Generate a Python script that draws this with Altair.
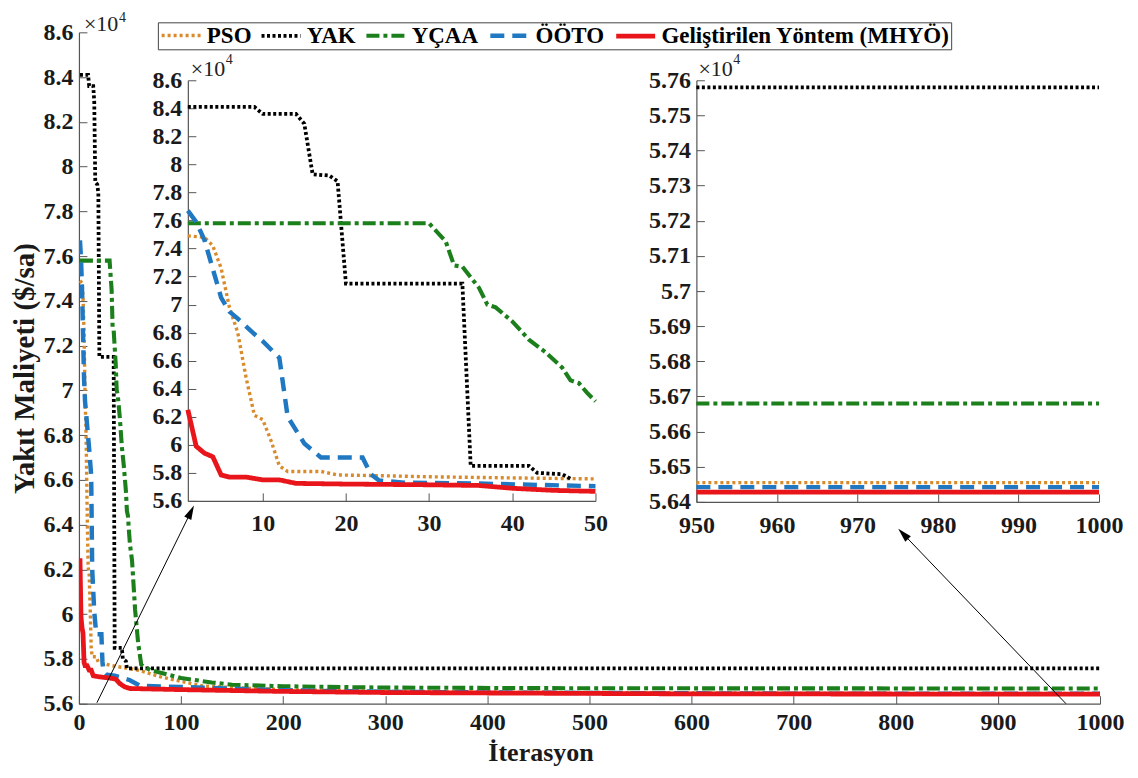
import altair as alt
import pandas as pd

# ---------------- data (cost values in units of 10^4 $/sa) ----------------
series_names = ["PSO", "YAK", "YÇAA", "ÖÖTO", "Geliştirilen Yöntem (MHYÖ)"]
series_colors = ["#D98B2B", "#000000", "#1B7F1B", "#1F78C1", "#E8161B"]
series_dashes = [[3, 3], [3, 2.5], [13, 4, 4, 4], [14, 8], [1, 0]]
series_widths = [3.4, 4.8, 3.4, 3.4, 3.4]

pso_it = [1, 3, 4, 5, 6, 7, 8, 9, 10, 11, 12, 13, 17, 19, 24, 30, 40, 50, 60, 80, 100, 120, 150, 200, 300, 500, 700, 950, 1000]
pso_val = [7.49, 7.48, 7.42, 7.26, 6.98, 6.80, 6.48, 6.21, 6.18, 6.03, 5.85, 5.81, 5.81, 5.785, 5.78, 5.772, 5.764, 5.757, 5.748, 5.72, 5.70, 5.68, 5.672, 5.663, 5.655, 5.65, 5.647, 5.6455, 5.6455]

yak_it = [1, 9, 10, 14, 15, 16, 18, 19, 20, 34, 35, 42, 43, 46, 47, 950, 1000]
yak_val = [8.41, 8.41, 8.36, 8.36, 8.29, 7.93, 7.92, 7.88, 7.15, 7.15, 5.85, 5.85, 5.80, 5.79, 5.758, 5.758, 5.758]

ycaa_it = [1, 30, 32, 33, 34, 36, 37, 38, 40, 42, 44, 46, 47, 48, 49, 50, 52, 55, 58, 61, 70, 100, 130, 150, 200, 300, 500, 950, 1000]
ycaa_val = [7.58, 7.58, 7.45, 7.28, 7.27, 7.12, 7.00, 6.98, 6.88, 6.75, 6.66, 6.55, 6.46, 6.44, 6.37, 6.31, 6.24, 6.02, 5.87, 5.775, 5.75, 5.715, 5.695, 5.685, 5.678, 5.672, 5.669, 5.668, 5.668]

ooto_it = [1, 2, 3, 5, 6, 7, 9, 10, 12, 13, 15, 17, 22, 23, 24, 27, 35, 50, 60, 100, 200, 300, 500, 700, 950, 1000]
ooto_val = [7.67, 7.59, 7.46, 7.05, 6.95, 6.90, 6.79, 6.74, 6.62, 6.20, 6.01, 5.91, 5.91, 5.79, 5.745, 5.73, 5.725, 5.705, 5.68, 5.675, 5.66, 5.653, 5.648, 5.645, 5.6442, 5.6442]

mhyo_it = [1, 2, 3, 4, 5, 6, 8, 10, 12, 14, 20, 30, 36, 40, 45, 50, 100, 200, 300, 600, 950, 1000]
mhyo_val = [6.25, 5.99, 5.94, 5.915, 5.785, 5.77, 5.77, 5.75, 5.75, 5.725, 5.72, 5.715, 5.71, 5.69, 5.675, 5.668, 5.663, 5.655, 5.65, 5.644, 5.6428, 5.6428]

main_x_ticks = [0, 100, 200, 300, 400, 500, 600, 700, 800, 900, 1000]
main_y_ticks = [5.6, 5.8, 6.0, 6.2, 6.4, 6.6, 6.8, 7.0, 7.2, 7.4, 7.6, 7.8, 8.0, 8.2, 8.4, 8.6]
left_x_ticks = [10, 20, 30, 40, 50]
right_x_ticks = [950, 960, 970, 980, 990, 1000]
right_y_ticks = [5.64, 5.65, 5.66, 5.67, 5.68, 5.69, 5.70, 5.71, 5.72, 5.73, 5.74, 5.75, 5.76]

# zoom arrows (in main-axes data coordinates)
arrow_x0 = [17.6, 966.7]
arrow_y0 = [5.6045, 5.6]
arrow_x1 = [109.6, 807.2]
arrow_y1 = [6.457, 6.359]
arrow_angle = [26, 316]

# ---------------- tables ----------------
rows = []
for name, its, vals in zip(series_names,
                           [pso_it, yak_it, ycaa_it, ooto_it, mhyo_it],
                           [pso_val, yak_val, ycaa_val, ooto_val, mhyo_val]):
    for i, v in zip(its, vals):
        rows.append({"it": i, "val": v, "series": name})
df = pd.DataFrame(rows)
arrows = pd.DataFrame({"x0": arrow_x0, "y0": arrow_y0, "x1": arrow_x1,
                       "y1": arrow_y1, "ang": arrow_angle})

W, H = 1022, 672
FONT = "Liberation Serif"
TICK_IN = {"expr": "-8"}


def ax(values, **kw):
    base = dict(values=values, labelExpr="format(datum.value, '~g')",
                tickSize=TICK_IN, labelFlush=False, labelOverlap=False,
                grid=False, labelFont=FONT, labelFontWeight="bold")
    base.update(kw)
    return alt.Axis(**base)


legend = alt.Legend(title=None, orient="none", legendX=79, legendY=-10,
                    direction="horizontal", columns=5,
                    symbolType="M-1,0H3", symbolSize=380,
                    symbolStrokeWidth=3, labelOffset=23, labelLimit=500,
                    labelFont=FONT, labelFontWeight="bold", labelFontSize=23,
                    labelColor="black", strokeColor="#444", fillColor="white",
                    padding=1, columnPadding=2)

color = alt.Color("series:N", scale=alt.Scale(domain=series_names, range=series_colors),
                  legend=legend)
dash = alt.StrokeDash("series:N", scale=alt.Scale(domain=series_names, range=series_dashes),
                      legend=legend)
width = alt.StrokeWidth("series:N", scale=alt.Scale(domain=series_names, range=series_widths),
                        legend=None)

# ---------------- main axes ----------------
main_lines = alt.Chart(df).mark_line(clip=True).encode(
    x=alt.X("it:Q", scale=alt.Scale(domain=[0, 1000], nice=False),
            axis=ax(main_x_ticks, orient="bottom", title="İterasyon",
                    labelPadding=15, titlePadding=5, titleX=462, titleAlign="center",
                    titleFontSize=26)),
    y=alt.Y("val:Q", scale=alt.Scale(domain=[5.6, 8.6], nice=False, zero=False),
            axis=ax(main_y_ticks, orient="left", title="Yakıt Maliyeti ($/sa)",
                    labelPadding=14, titlePadding=3, titleFontSize=29)),
    color=color, strokeDash=dash, strokeWidth=width,
)

arrow_lines = alt.Chart(arrows).mark_rule(color="black", strokeWidth=1).encode(
    x="x0:Q", y="y0:Q", x2="x1:Q", y2="y1:Q")
arrow_heads = alt.Chart(arrows).mark_point(
    shape="M0,-1L-0.55,1L0.55,1Z", filled=True, color="black", opacity=1, size=200
).encode(x="x1:Q", y="y1:Q", angle=alt.Angle("ang:Q", scale=None))

one = pd.DataFrame({"k": [0]})


def exp_label(px, py, rise):
    base_txt = alt.Chart(one).mark_text(font=FONT, fontSize=22, align="left",
                                        baseline="alphabetic", color="#222").encode(
        x=alt.value(px), y=alt.value(py), text=alt.value("×10"))
    sup_txt = alt.Chart(one).mark_text(font=FONT, fontSize=14, align="left",
                                       baseline="alphabetic", color="#222").encode(
        x=alt.value(px + 35), y=alt.value(py - rise), text=alt.value("4"))
    return base_txt + sup_txt


main_group = alt.layer(main_lines, arrow_lines, arrow_heads,
                       exp_label(5, -1, 9), exp_label(112, 44, 12), exp_label(620, 44, 12))

# ---------------- left inset (iterations 1-50) ----------------
left_lines = alt.Chart(df).transform_filter("datum.it <= 50").mark_line().encode(
    x=alt.X("it:Q", scale=alt.Scale(domain=[1, 50], range=[109, 517], nice=False),
            axis=ax(left_x_ticks, orient="bottom", title=None, offset=-203,
                    labelPadding=19)),
    y=alt.Y("val:Q", scale=alt.Scale(domain=[5.6, 8.6], range=[469, 48], nice=False, zero=False),
            axis=ax(main_y_ticks, orient="left", title=None, offset=-109,
                    labelPadding=14)),
    color=color, strokeDash=dash, strokeWidth=width,
)

# ---------------- right inset (iterations 950-1000) ----------------
right_lines = alt.Chart(df).transform_filter("datum.it >= 950").mark_line().encode(
    x=alt.X("it:Q", scale=alt.Scale(domain=[950, 1000], range=[618, 1021], nice=False),
            axis=ax(right_x_ticks, orient="bottom", title=None, offset=-202,
                    labelPadding=20)),
    y=alt.Y("val:Q", scale=alt.Scale(domain=[5.64, 5.76], range=[470, 48], nice=False, zero=False),
            axis=ax(right_y_ticks, orient="left", title=None, offset=-618,
                    labelPadding=14)),
    color=color, strokeDash=dash, strokeWidth=width,
)

chart = alt.layer(main_group, left_lines, right_lines).resolve_scale(
    x="independent", y="independent"
).properties(
    width=W, height=H, autosize="none",
    padding={"left": 71, "top": 24, "right": 30, "bottom": 66},
).configure_view(stroke=None).configure_axis(
    labelFont=FONT, labelFontWeight="bold", labelFontSize=24, labelColor="#1a1a1a",
    titleFont=FONT, titleFontWeight="bold", titleFontSize=29, titleColor="#1a1a1a",
    domainColor="#555", tickColor="#555", domainWidth=1.2, tickWidth=1,
)

chart.save("out.html", embed_options={"renderer": "svg", "actions": False})
